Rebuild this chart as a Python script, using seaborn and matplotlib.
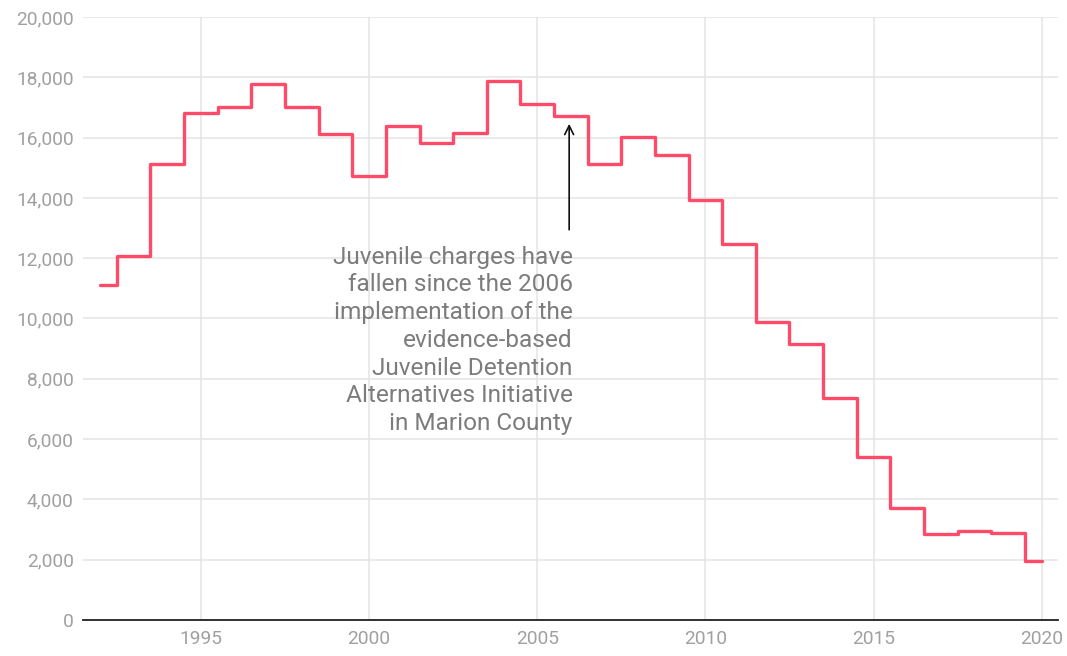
import matplotlib
matplotlib.use("Agg")
import matplotlib.pyplot as plt
import seaborn as sns
import pandas as pd
from matplotlib.ticker import FuncFormatter

years = list(range(1992, 2021))
charges = [11110, 12070, 15120, 16820, 17010, 17780, 17010, 16120, 14730,
           16380, 15820, 16150, 17880, 17110, 16720, 15120, 16020, 15420,
           13930, 12470, 9880, 9150, 7360, 5410, 3710, 2850, 2950, 2890, 1960]
xticks = [1995, 2000, 2005, 2010, 2015, 2020]
yticks = list(range(0, 20001, 2000))
note = ("Juvenile charges have\nfallen since the 2006\nimplementation of the\n"
        "evidence-based\nJuvenile Detention\nAlternatives Initiative\nin Marion County")

df = pd.DataFrame({"year": years, "charges": charges})

sns.set_theme(style="white")
plt.rcParams["font.family"] = ["Roboto", "DejaVu Sans"]

fig = plt.figure(figsize=(10.67, 6.56), dpi=100)
ax = fig.add_axes([0.078, 0.055, 0.914, 0.919])

sns.lineplot(data=df, x="year", y="charges", ax=ax, color="#ff4b6a",
             linewidth=2.4, drawstyle="steps-mid", zorder=3)

ax.set_xlim(1991.5, 2020.5)
ax.set_ylim(0, 20000)
ax.set_xticks(xticks)
ax.set_yticks(yticks)
ax.yaxis.set_major_formatter(FuncFormatter(lambda v, p: f"{int(v):,}"))
ax.grid(True, color="#e4e4e4", linewidth=1.1, zorder=0)
ax.set_xlabel("")
ax.set_ylabel("")
for side in ["top", "right", "left"]:
    ax.spines[side].set_visible(False)
ax.spines["bottom"].set_color("#222222")
ax.spines["bottom"].set_linewidth(1.3)
ax.tick_params(axis="both", length=0, labelsize=13.8, colors="#a0a0a0", pad=7)

ax.annotate("", xy=(2005.95, 16550), xytext=(2005.95, 12850),
            arrowprops=dict(arrowstyle="->", color="#111111", lw=1.2,
                            mutation_scale=16), zorder=4)
ax.text(2006.05, 12420, note, ha="right", va="top", fontsize=17.6,
        color="#7c7c7c", linespacing=1.265, zorder=4)

fig.savefig("out.png", dpi=100, facecolor="white")
